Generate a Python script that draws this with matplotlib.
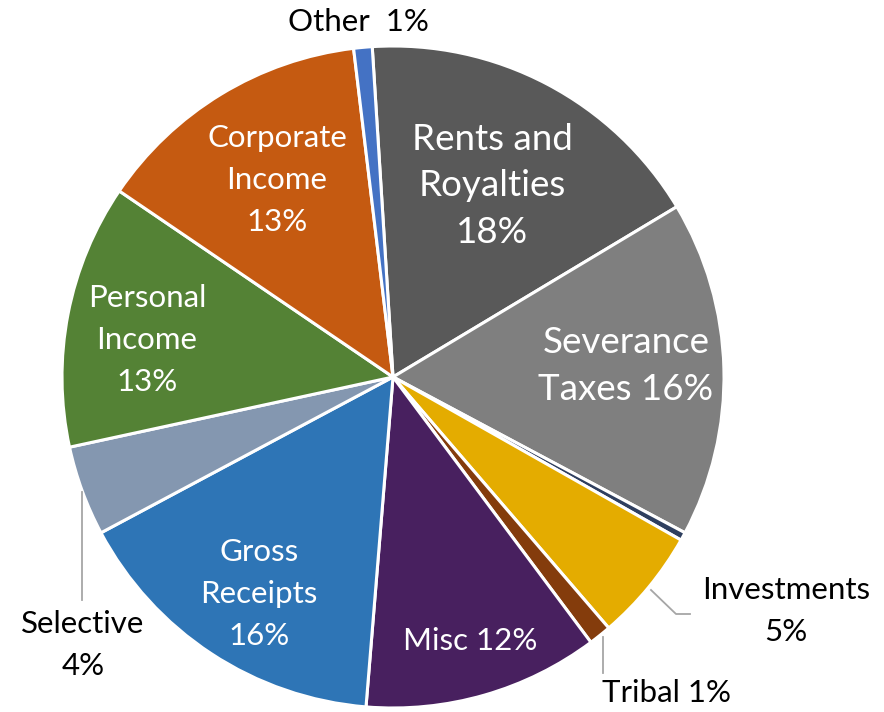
import matplotlib.pyplot as plt

categories = ['Rents and\nRoyalties', 'Severance\nTaxes', 'Unlabeled', 'Investments', 'Tribal',
              'Misc', 'Gross\nReceipts', 'Selective', 'Personal\nIncome', 'Corporate\nIncome', 'Other']
shares = [17.4, 16.4, 0.4, 5.5, 1.1, 11.5, 15.9, 4.4, 12.9, 13.6, 0.9]
colors = ['#595959', '#7f7f7f', '#2f3f5f', '#e4ac00', '#843c0c', '#48205f',
          '#2e75b6', '#8497b0', '#548235', '#c55a11', '#4472c4']

# label text for each slice
lbl = {
    'Rents and\nRoyalties': 'Rents and\nRoyalties\n18%',
    'Severance\nTaxes': 'Severance\nTaxes 16%',
    'Investments': 'Investments\n5%',
    'Tribal': 'Tribal 1%',
    'Misc': 'Misc 12%',
    'Gross\nReceipts': 'Gross\nReceipts\n16%',
    'Selective': 'Selective\n4%',
    'Personal\nIncome': 'Personal\nIncome\n13%',
    'Corporate\nIncome': 'Corporate\nIncome\n13%',
    'Other': 'Other  1%',
}

plt.rcParams['font.family'] = ['Lato', 'DejaVu Sans']

CX, CY, R = 393, 377, 331

fig = plt.figure(figsize=(8.84, 7.12), dpi=100)
ax = fig.add_axes([0, 0, 1, 1])

wedges, _ = ax.pie(shares, colors=colors, startangle=93.6, counterclock=False,
                   radius=1, wedgeprops=dict(edgecolor='white', linewidth=2.2))

ax.set_xlim(-CX / R, (884 - CX) / R)
ax.set_ylim((CY - 712) / R, CY / R)
ax.axis('off')


def px(x, y):
    return ((x - CX) / R, (CY - y) / R)


# (pixel centre of text, colour, size)
layout = {
    'Rents and\nRoyalties': ((492, 186), 'white', 26.5),
    'Severance\nTaxes': ((626, 366), 'white', 26.5),
    'Investments': ((786, 611), 'black', 22.5),
    'Tribal': ((666, 693), 'black', 22.5),
    'Misc': ((470, 641), 'white', 22.5),
    'Gross\nReceipts': ((259, 594), 'white', 22.5),
    'Selective': ((83, 645), 'black', 22.5),
    'Personal\nIncome': ((147, 340), 'white', 22.5),
    'Corporate\nIncome': ((277, 180), 'white', 22.5),
    'Other': ((358, 22), 'black', 22.5),
}

for cat in categories:
    if cat not in layout:
        continue
    (x, y), c, s = layout[cat]
    ls = 1.5 if s > 24 else 1.62
    ax.text(*px(x, y), lbl[cat], color=c, fontsize=s, ha='center', va='center',
            linespacing=ls)

# leader lines
leaders = [
    [(651, 590), (676, 614), (690, 614)],
    [(603, 637), (603, 673)],
    [(82, 492), (82, 600)],
]
for pts in leaders:
    xs, ys = zip(*[px(a, b) for a, b in pts])
    ax.plot(xs, ys, color='#a6a6a6', lw=1.3)

fig.savefig('out.png', dpi=100)
